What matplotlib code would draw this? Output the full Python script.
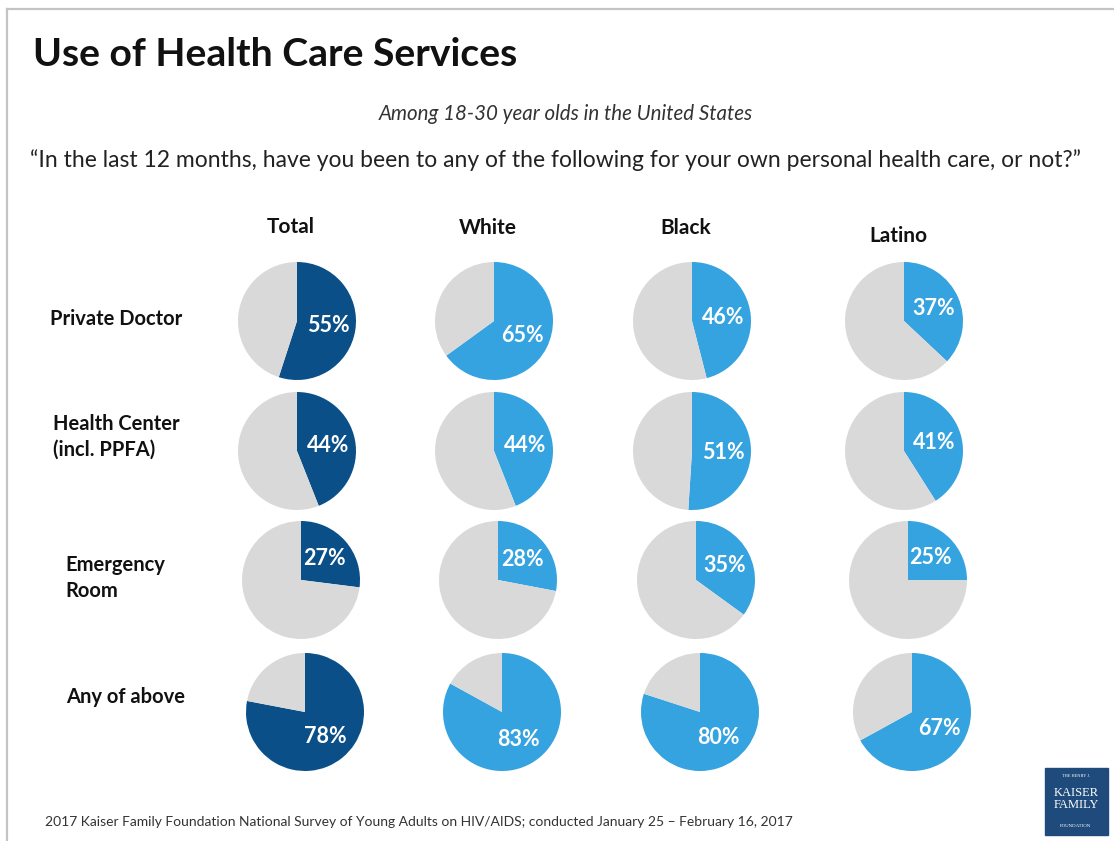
import matplotlib
matplotlib.use("Agg")
import matplotlib.pyplot as plt
from matplotlib.patches import Rectangle

plt.rcParams['font.family'] = ['Lato', 'DejaVu Sans']

groups = ['Total', 'White', 'Black', 'Latino']
services = ['Private Doctor', 'Health Center\n(incl. PPFA)', 'Emergency\nRoom', 'Any of above']

total = [55, 44, 27, 78]
white = [65, 44, 28, 83]
black = [46, 51, 35, 80]
latino = [37, 41, 25, 67]

dark_blue = '#0B4F89'
light_blue = '#35A3E0'
grey = '#D9D9D9'

W, H = 1114, 841
fig = plt.figure(figsize=(W / 100, H / 100), dpi=100)

def fx(x):
    return x / W

def fy(y):
    return 1 - y / H

# slide frame (open on right and bottom)
fig.add_artist(plt.Line2D([fx(7), fx(7)], [fy(9), 0], color='#C4C4C4', lw=1.6))
fig.add_artist(plt.Line2D([fx(7), 1], [fy(9), fy(9)], color='#C4C4C4', lw=1.6))

fig.text(fx(33), fy(55), 'Use of Health Care Services', fontsize=28.2, fontweight='bold',
         va='center', ha='left', color='#111111')
fig.text(fx(566), fy(114), 'Among 18-30 year olds in the United States', fontsize=14.8,
         style='italic', ha='center', va='center', color='#333333')
fig.text(fx(556), fy(160),
         '\u201cIn the last 12 months, have you been to any of the following for your own personal health care, or not?\u201d',
         fontsize=16.5, ha='center', va='center', color='#222222')

col_x = [297, 494, 692, 904]
head_y = [227, 228, 228, 236]
row_y = [321, 451, 580, 712]
row_shift = [0, 0, 4, 8]
r = 59

for gx, hy, g in zip(col_x, head_y, groups):
    fig.text(fx(gx - 6), fy(hy), g, fontsize=15, fontweight='bold', ha='center', va='center',
             color='#111111')

label_x = [50, 53, 65, 66]
label_y = [319, 437, 578, 697]
for lx, ly, s in zip(label_x, label_y, services):
    fig.text(fx(lx), fy(ly), s, fontsize=14.5, fontweight='bold', ha='left', va='center',
             linespacing=1.35, color='#111111')

data = [total, white, black, latino]
for ci, vals in enumerate(data):
    color = dark_blue if ci == 0 else light_blue
    for ri, v in enumerate(vals):
        cx = col_x[ci] + row_shift[ri]
        cy = row_y[ri]
        ax = fig.add_axes([fx(cx - r), fy(cy + r), 2 * r / W, 2 * r / H])
        wedges, texts, autotexts = ax.pie([v, 100 - v], colors=[color, grey], startangle=90,
                                          counterclock=False, radius=1, autopct='%d%%',
                                          pctdistance=0.54,
                                          textprops=dict(color='white', fontsize=15.5,
                                                         fontweight='bold'))
        autotexts[1].set_text('')
        autotexts[0].set_text('%d%%' % v)
        ax.set_xlim(-1, 1)
        ax.set_ylim(-1, 1)
        ax.set_aspect('equal')
        ax.axis('off')

fig.text(fx(45), fy(822),
         '2017 Kaiser Family Foundation National Survey of Young Adults on HIV/AIDS; conducted January 25 \u2013 February 16, 2017',
         fontsize=10, ha='left', va='center', color='#333333')

# logo
fig.add_artist(Rectangle((fx(1045), fy(835)), 63 / W, 67 / H, color='#1F4B7C'))
fig.text(fx(1076), fy(776), 'THE HENRY J.', fontsize=3.2, color='white', ha='center', va='center',
         family='Liberation Serif')
fig.text(fx(1076), fy(799), 'KAISER\nFAMILY', fontsize=9, color='white', ha='center', va='center',
         family='Liberation Serif', linespacing=0.95)
fig.text(fx(1076), fy(826), 'FOUNDATION', fontsize=3.5, color='white', ha='center', va='center',
         family='Liberation Serif')

fig.savefig('out.png', dpi=100)
